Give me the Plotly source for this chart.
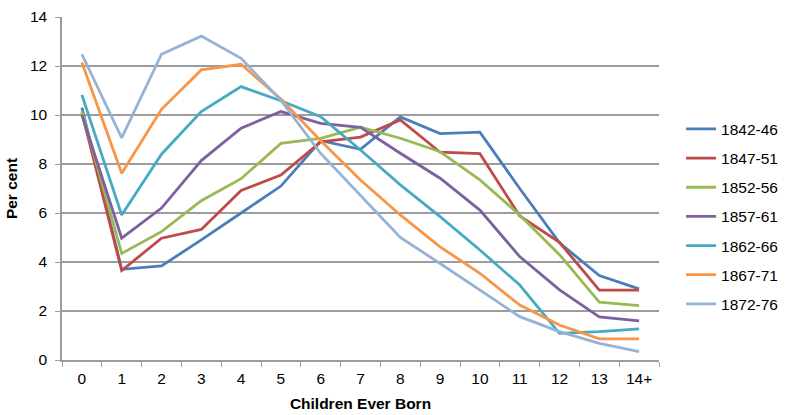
import plotly.graph_objects as go

categories = ["0", "1", "2", "3", "4", "5", "6", "7", "8", "9", "10", "11", "12", "13", "14+"]
series_names = ["1842-46", "1847-51", "1852-56", "1857-61", "1862-66", "1867-71", "1872-76"]

s1842 = [10.3, 3.7, 3.84, 4.9, 6.0, 7.1, 8.95, 8.6, 9.92, 9.24, 9.3, 7.0, 4.78, 3.45, 2.9]
s1847 = [10.1, 3.65, 4.97, 5.33, 6.92, 7.55, 8.9, 9.1, 9.8, 8.48, 8.42, 5.88, 4.8, 2.85, 2.85]
s1852 = [10.15, 4.35, 5.24, 6.5, 7.4, 8.84, 9.05, 9.5, 9.05, 8.5, 7.35, 5.92, 4.3, 2.36, 2.22]
s1857 = [10.0, 4.97, 6.2, 8.14, 9.46, 10.14, 9.66, 9.5, 8.44, 7.42, 6.12, 4.22, 2.86, 1.76, 1.6]
s1862 = [10.82, 5.92, 8.4, 10.14, 11.16, 10.58, 9.93, 8.57, 7.15, 5.85, 4.49, 3.06, 1.09, 1.16, 1.27]
s1867 = [12.14, 7.62, 10.23, 11.84, 12.07, 10.65, 8.95, 7.35, 5.92, 4.62, 3.54, 2.24, 1.43, 0.86, 0.86]
s1872 = [12.48, 9.07, 12.48, 13.22, 12.31, 10.6, 8.43, 6.7, 5.0, 3.94, 2.86, 1.77, 1.16, 0.68, 0.34]

series_values = [s1842, s1847, s1852, s1857, s1862, s1867, s1872]
colors = ["#4A7EBB", "#BE4B48", "#98B954", "#7D60A0", "#46AAC5", "#F79646", "#95B3D7"]

fig = go.Figure()
for name, vals, col in zip(series_names, series_values, colors):
    fig.add_trace(go.Scatter(
        x=categories, y=vals, name=name, mode="lines",
        line=dict(color=col, width=2.8),
        legendgroup=name,
    ))

grid_col = "#9c9c9c"
fs = 15.5
fig.update_layout(
    width=787, height=415,
    margin=dict(l=62, r=128, t=17, b=55, autoexpand=False),
    paper_bgcolor="white", plot_bgcolor="white",
    font=dict(family="Liberation Sans, Arial, sans-serif", size=fs, color="black"),
    showlegend=True,
    legend=dict(
        x=1.037, y=0.722, xanchor="left", yanchor="top",
        traceorder="grouped", tracegroupgap=6,
        font=dict(size=fs), itemwidth=30,
        bgcolor="rgba(0,0,0,0)",
    ),
    xaxis=dict(
        type="category", categoryorder="array", categoryarray=categories,
        range=[-0.5, 14.5], automargin=False,
        showgrid=False, showline=True, linecolor=grid_col, linewidth=1.5,
        ticks="outside", tickson="boundaries", ticklen=5, tickcolor=grid_col,
        ticklabelstandoff=4,
        title=dict(text="<b>Children Ever Born</b>", font=dict(size=fs), standoff=12),
        tickfont=dict(size=fs),
    ),
    yaxis=dict(
        range=[0, 14], dtick=2, tick0=0, automargin=False,
        showgrid=True, gridcolor=grid_col, gridwidth=1.5,
        showline=True, linecolor=grid_col, linewidth=1.5,
        ticks="outside", ticklen=5, tickcolor=grid_col,
        ticklabelstandoff=5,
        zeroline=False,
        title=dict(text="<b>Per cent</b>", font=dict(size=fs), standoff=8),
        tickfont=dict(size=fs),
    ),
)

fig.write_html("out.html")
